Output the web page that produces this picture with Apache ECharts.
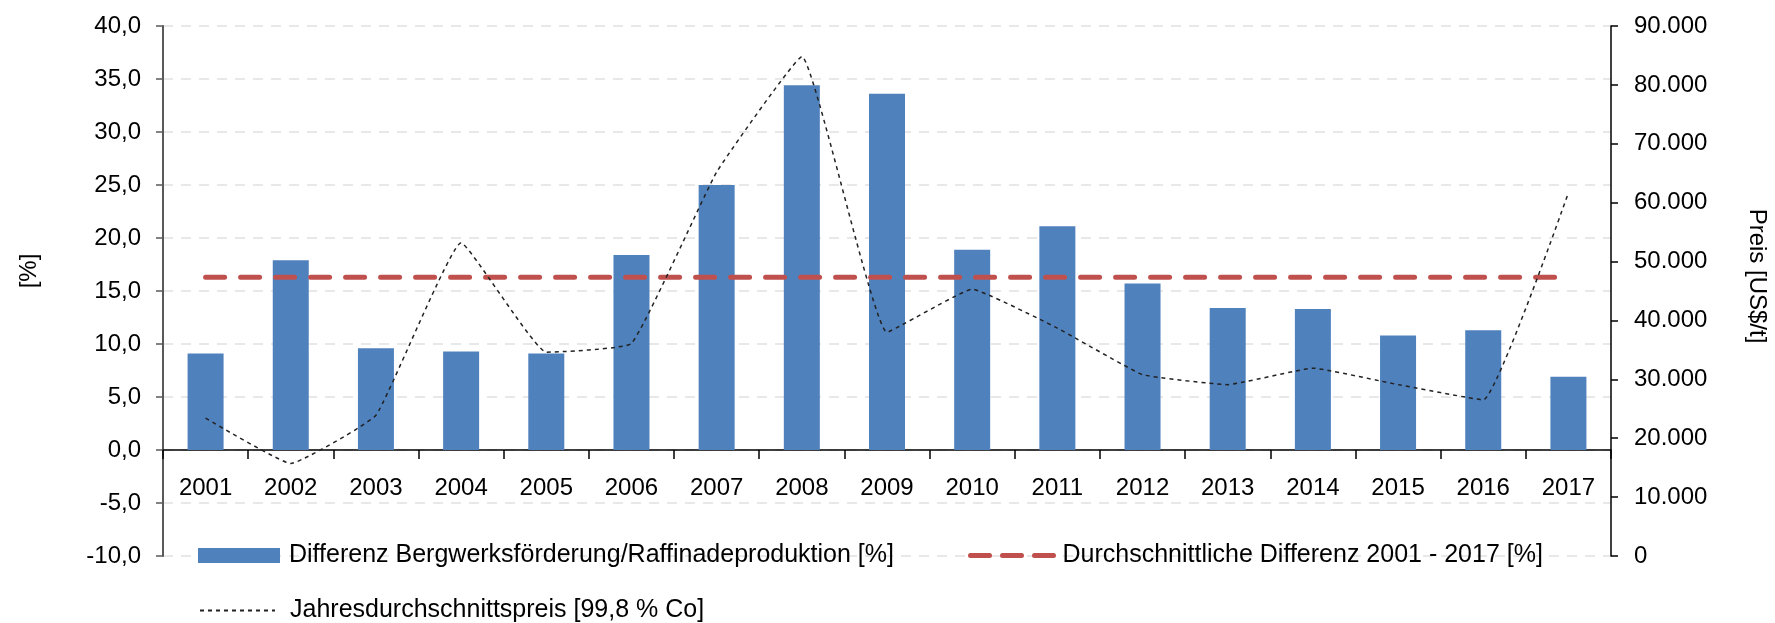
<!DOCTYPE html>
<html>
<head>
<meta charset="utf-8">
<script src="https://cdn.jsdelivr.net/npm/echarts@6/dist/echarts.min.js"></script>
<style>
  html, body { margin: 0; padding: 0; background: #fff; }
  #chart { width: 1775px; height: 623px; }
</style>
</head>
<body>
<div id="chart"></div>
<script>
const years = ['2001', '2002', '2003', '2004', '2005', '2006', '2007', '2008', '2009',
  '2010', '2011', '2012', '2013', '2014', '2015', '2016', '2017']
// Differenz Bergwerksförderung/Raffinadeproduktion [%]
const diffValues = [9.1, 17.9, 9.6, 9.3, 9.1, 18.4, 25.0, 34.4, 33.6, 18.9, 21.1, 15.7, 13.4, 13.3, 10.8, 11.3, 6.9]
// Durchschnittliche Differenz 2001 - 2017 [%]
const avgDiff = 16.3
// Jahresdurchschnittspreis [US$/t]
const priceValues = [23400, 15700, 23900, 53200, 34600, 36100, 65200, 84800, 38000,
  45300, 38700, 30800, 29100, 31900, 29100, 26500, 61700]

const nameBar = 'Differenz Bergwerksförderung/Raffinadeproduktion [%]'
const nameAvg = 'Durchschnittliche Differenz 2001 - 2017 [%]'
const namePrice = 'Jahresdurchschnittspreis [99,8 % Co]'

const font = '"Liberation Sans", Arial, sans-serif'

const chart = echarts.init(document.getElementById('chart'))

const option = {
  animation: false,
  textStyle: { fontFamily: font, color: '#000' },
  grid: { left: 163, right: 164, top: 26, bottom: 67, containLabel: false },
  legend: [
    {
      data: [{ name: nameBar, icon: 'rect' }], left: 198, top: 543, padding: 0,
      itemWidth: 82, itemHeight: 15,
      textStyle: { fontSize: 25, color: '#000', padding: [0, 0, 0, 4] }
    },
    {
      data: [{ name: nameAvg, itemStyle: { opacity: 0 } }], left: 968, top: 543, padding: 0,
      itemWidth: 85, itemHeight: 15,
      lineStyle: { width: 5, type: [19, 13], cap: 'round' },
      textStyle: { fontSize: 25, color: '#000', padding: [0, 0, 0, 2] }
    },
    {
      data: [{ name: namePrice, itemStyle: { opacity: 0 } }], left: 199, top: 598, padding: 0,
      itemWidth: 75, itemHeight: 15,
      textStyle: { fontSize: 25, color: '#000', padding: [0, 0, 0, 10] }
    }
  ],
  xAxis: {
    type: 'category',
    data: years,
    boundaryGap: true,
    axisLine: { onZero: true, onZeroAxisIndex: 0, lineStyle: { color: '#000', width: 1.5 } },
    axisTick: { show: true, length: 9, lineStyle: { color: '#000', width: 1.5 } },
    // labels sit under the zero line, not at the bottom of the grid
    axisLabel: { interval: 0, fontSize: 24, color: '#000', margin: -80 }
  },
  yAxis: [
    {
      type: 'value',
      min: -10,
      max: 40,
      interval: 5,
      axisLine: { show: true, lineStyle: { color: '#595959', width: 2 } },
      axisTick: { show: true, length: 7, lineStyle: { color: '#595959', width: 1.5 } },
      axisLabel: {
        fontSize: 24, color: '#000', margin: 22,
        formatter: v => v.toFixed(1).replace('.', ',')
      },
      splitLine: { show: true, lineStyle: { color: '#e8e8e8', width: 2, type: [10, 8] } }
    },
    {
      type: 'value',
      min: 0,
      max: 90000,
      interval: 10000,
      position: 'right',
      axisLine: { show: true, lineStyle: { color: '#000', width: 1.5 } },
      axisTick: { show: true, length: 7, lineStyle: { color: '#000', width: 1.5 } },
      axisLabel: {
        fontSize: 24, color: '#000', margin: 23,
        formatter: v => v === 0 ? '0' : String(v).replace(/\B(?=(\d{3})+$)/g, '.')
      },
      splitLine: { show: false }
    }
  ],
  graphic: [
    {
      type: 'text', x: 29, y: 271, rotation: Math.PI / 2,
      style: { text: '[%]', fontSize: 24, fontFamily: font, fill: '#000', align: 'center', verticalAlign: 'middle' }
    },
    {
      type: 'text', x: 1757, y: 276, rotation: -Math.PI / 2,
      style: { text: 'Preis [US$/t]', fontSize: 24, fontFamily: font, fill: '#000', align: 'center', verticalAlign: 'middle' }
    }
  ],
  series: [
    {
      name: nameBar,
      type: 'bar',
      data: diffValues,
      barWidth: 36,
      yAxisIndex: 0,
      itemStyle: { color: '#4F81BD' },
      z: 2
    },
    {
      name: nameAvg,
      type: 'line',
      data: years.map(() => avgDiff),
      yAxisIndex: 0,
      symbol: 'none',
      lineStyle: { color: '#C0504D', width: 5, type: [19, 16], cap: 'round' },
      itemStyle: { color: '#C0504D' },
      z: 3
    },
    {
      name: namePrice,
      type: 'line',
      data: priceValues,
      yAxisIndex: 1,
      symbol: 'none',
      smooth: 0.1,
      lineStyle: { color: '#222', width: 1.5, type: [4, 4] },
      itemStyle: { color: '#222' },
      z: 4
    }
  ]
}

chart.setOption(option)
</script>
</body>
</html>
